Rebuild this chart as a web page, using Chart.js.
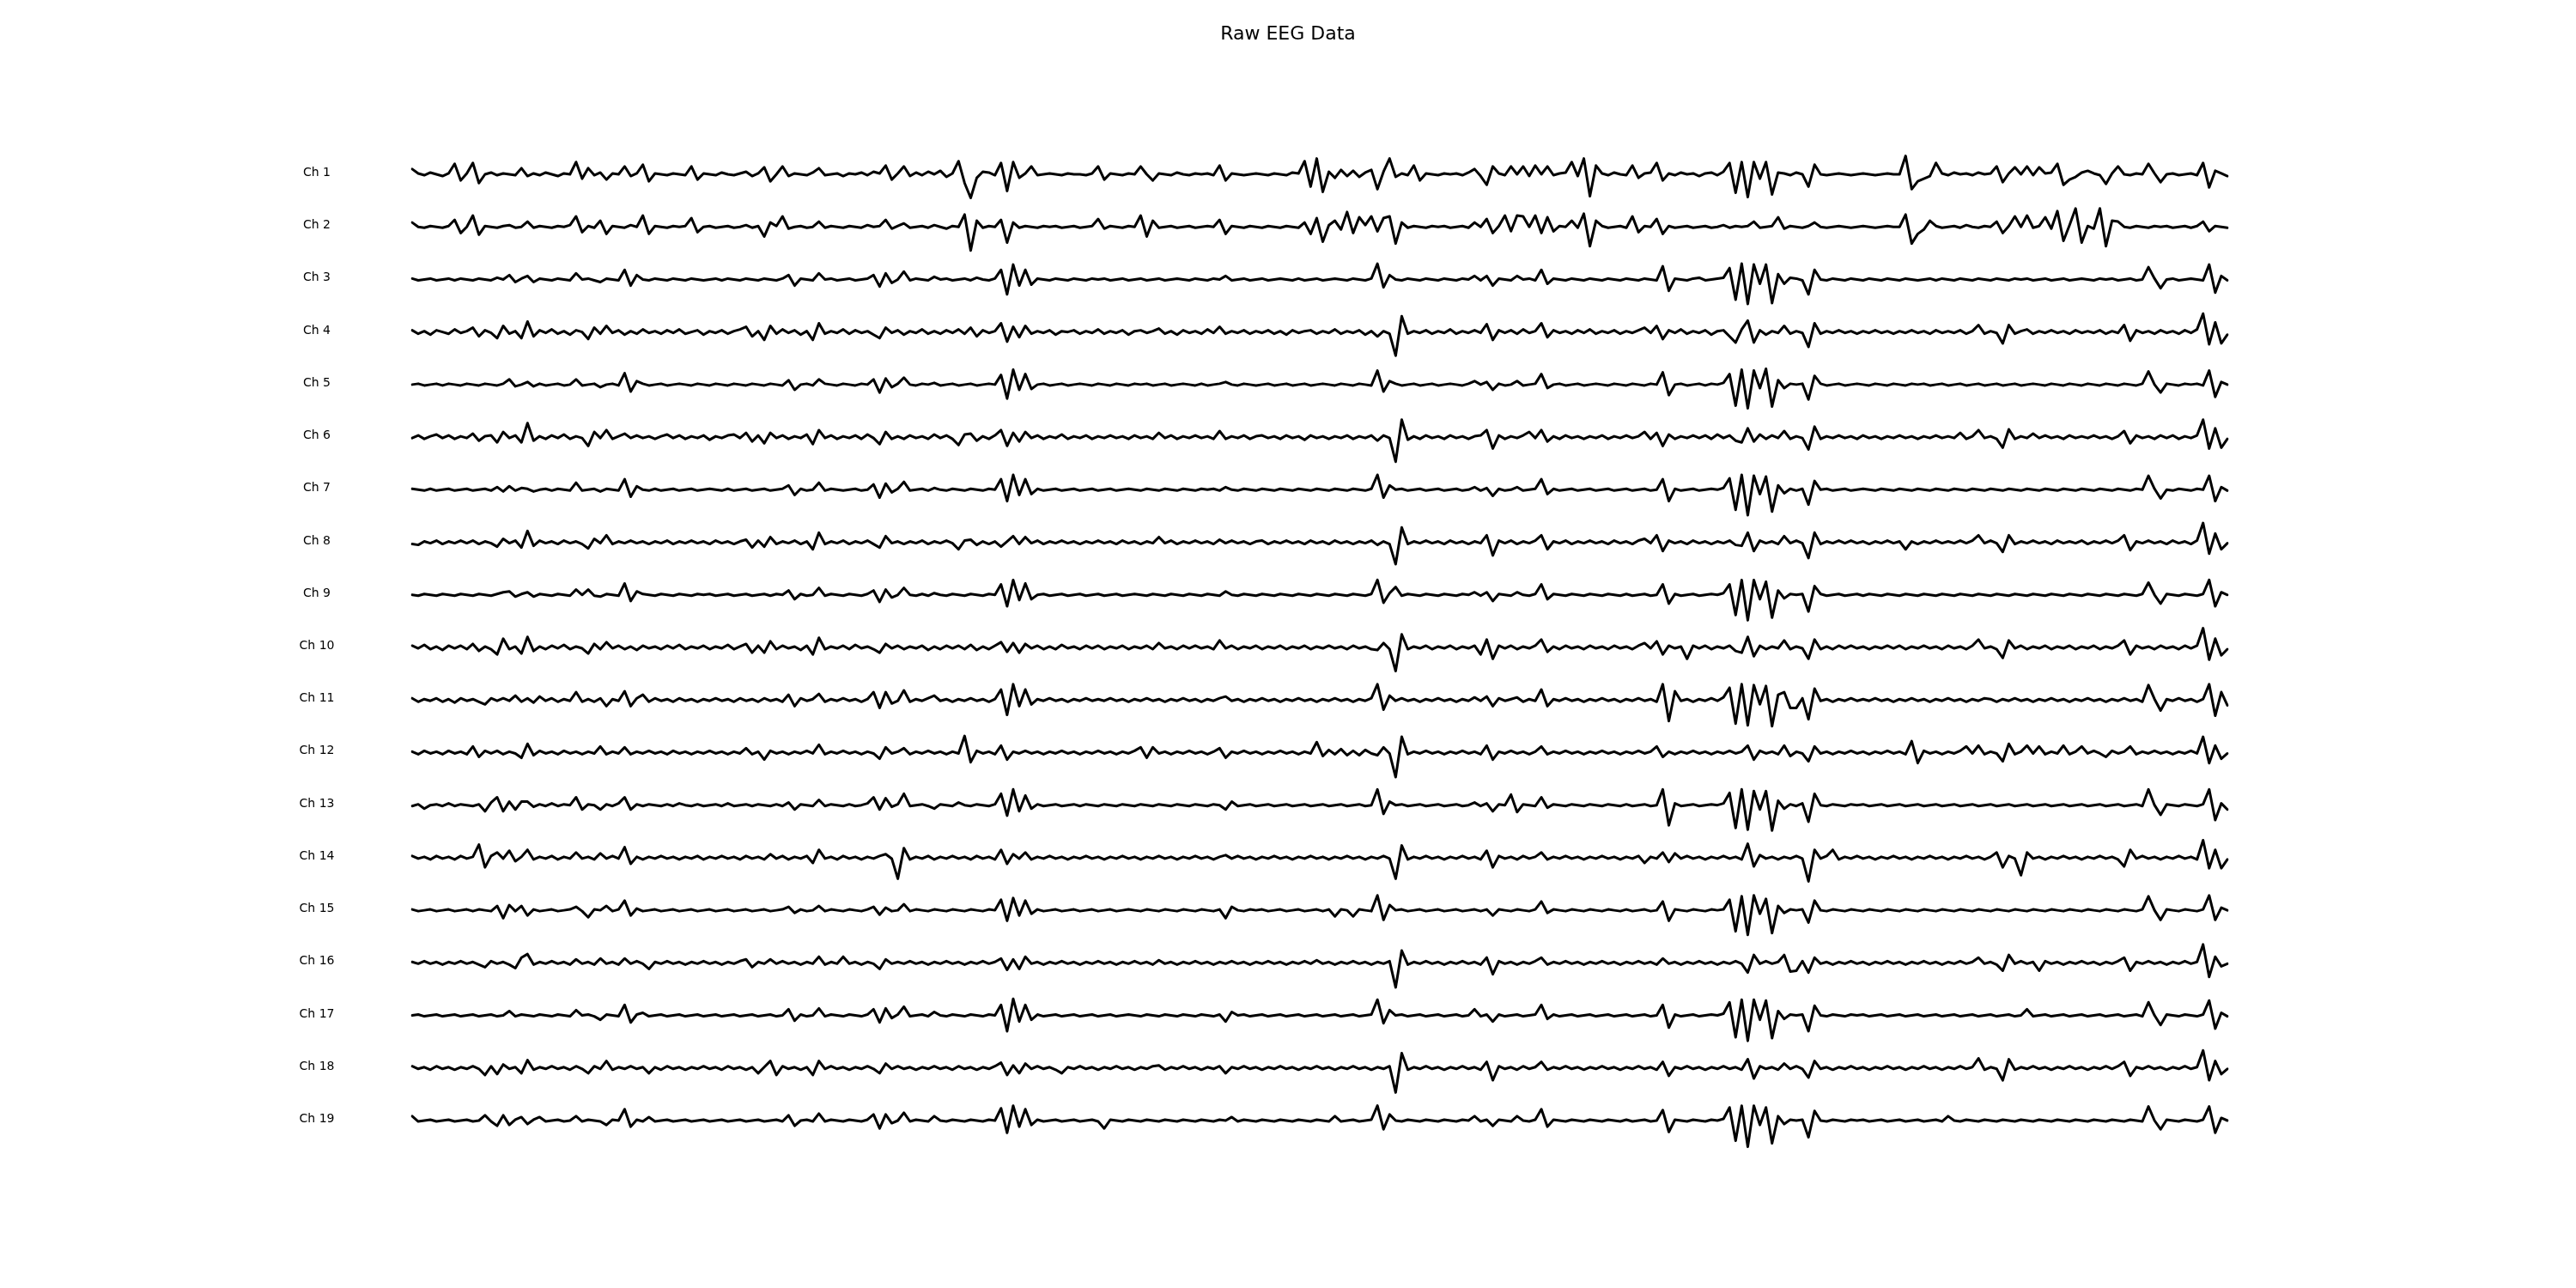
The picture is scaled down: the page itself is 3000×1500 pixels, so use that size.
<!DOCTYPE html>
<html><head><meta charset="utf-8">
<script src="https://cdn.jsdelivr.net/npm/chart.js@4.4.1/dist/chart.umd.min.js"></script>
<style>html,body{margin:0;padding:0;background:#fff;}canvas{display:block;}</style>
</head><body>
<canvas id="c" width="3000" height="1500" style="width:3000px;height:1500px"></canvas>
<script>
const chartTitle = "Raw EEG Data";
const channelNames = ["Ch 1","Ch 2","Ch 3","Ch 4","Ch 5","Ch 6","Ch 7","Ch 8","Ch 9","Ch 10","Ch 11","Ch 12","Ch 13","Ch 14","Ch 15","Ch 16","Ch 17","Ch 18","Ch 19"];

const ch1 = [
6,1,-1,2,0,-2,1,12,-7,1,13,-10,0,2,-1,1,0,-1,7,-2,
1,-1,2,0,-2,1,0,14,-5,7,-1,2,-6,1,0,9,-2,1,11,-8,
1,0,-1,1,0,-1,9,-6,1,0,-1,2,0,-1,1,3,-2,1,8,-8,
0,9,-2,1,0,-1,2,7,-1,0,1,-2,1,0,2,-1,3,1,10,-6,
1,9,-2,2,-1,3,0,4,-3,1,15,-10,-27,-4,3,2,-1,13,-19,14,
-4,1,9,-1,0,1,0,-1,1,0,0,-1,1,9,-6,1,0,-1,1,0,
9,0,-7,1,0,-1,2,0,-1,1,0,1,-1,10,-7,1,0,-1,0,1,
0,-1,1,0,-1,2,1,15,-14,18,-20,3,-4,5,-2,4,-3,2,5,-17,
3,18,-3,1,-1,10,-7,1,0,-1,1,0,1,-1,2,6,-2,-12,9,1,
-1,9,0,9,-2,10,0,9,-1,1,2,14,-2,18,-25,10,1,-1,2,0,
-1,10,-4,1,2,13,-7,1,-1,2,0,1,-2,1,2,-1,3,13,-21,14,
-26,14,-5,14,-23,2,1,-1,2,0,-14,11,0,-1,0,1,0,-1,0,1,
0,-1,0,1,0,0,21,-17,-8,-5,-2,13,1,-1,2,0,1,-1,2,0,
1,9,-9,1,8,0,9,-1,8,1,2,12,-12,-6,-3,2,4,1,-1,-11,
1,9,0,-1,1,0,12,1,-9,0,1,-1,0,1,-1,13,-15,4,1,-2];

const ch2 = [
5,0,-1,1,0,-1,1,8,-7,0,13,-9,1,0,-1,1,2,-1,0,6,
-1,1,0,-1,1,0,2,12,-6,1,-1,7,-8,1,0,-1,2,0,13,-8,
1,0,-1,1,0,1,10,-6,0,1,-1,0,1,-1,0,2,-1,1,-11,5,
1,12,-2,0,1,-1,0,6,-1,1,0,-1,1,0,-1,2,0,1,8,-2,
1,4,-1,0,1,-1,2,0,-2,1,0,14,-27,7,-1,1,0,8,-18,5,
-1,1,0,-1,1,0,1,-1,0,1,-1,0,1,9,-2,1,0,-1,1,0,
13,-11,7,-1,0,1,-1,0,1,-1,0,1,0,8,-8,1,0,-1,1,0,
-1,1,0,-1,1,0,-1,5,-8,10,-17,2,7,-3,17,-7,11,2,12,-5,
10,12,-19,5,-1,1,0,-1,1,0,1,-1,0,1,-1,5,0,9,-7,1,
13,-5,13,12,0,13,-7,11,-5,1,0,7,-1,15,-22,7,1,-1,0,1,
-1,12,-6,1,0,9,-8,1,-1,0,1,-1,0,1,-1,0,2,-1,1,0,
1,6,-1,0,1,11,-2,1,0,-1,1,5,0,-1,0,1,0,-1,0,1,
0,-1,0,1,0,0,14,-19,-8,-3,7,1,-1,0,1,-1,2,0,-1,1,
0,6,-7,1,12,0,13,-1,1,11,-2,18,-16,2,21,-18,1,-2,21,-22,
7,6,0,-1,1,0,-1,1,0,1,-1,0,1,-1,1,6,-5,1,0,-1];

const ch3 = [
1,-1,0,1,-1,0,1,-1,1,0,-1,1,0,-1,2,0,5,-3,1,4,
-3,1,0,-1,1,0,-1,7,0,1,-1,-3,1,0,-1,11,-7,5,0,-1,
1,0,-1,1,0,-1,1,0,-1,0,1,-1,1,0,-1,1,0,-1,1,0,
-1,1,5,-7,1,0,-1,7,0,1,-1,0,1,-1,0,1,5,-8,7,-4,
0,9,-1,1,0,-1,3,0,1,-1,0,1,-1,2,0,-1,1,11,-17,17,
-7,11,-6,1,0,-1,1,0,-1,1,0,-1,1,0,1,-1,0,1,-1,0,
1,-1,0,1,-1,0,1,0,-1,1,0,-1,1,0,4,-1,0,1,-1,0,
1,-1,0,1,0,-1,1,-1,0,1,-1,0,1,0,-1,1,0,-1,1,18,
-9,5,0,-1,1,0,-1,1,0,-1,1,0,-1,1,0,4,-1,4,-7,1,
0,-1,4,0,1,-1,11,-5,1,0,-1,1,0,-1,1,0,-1,1,0,-1,
1,0,-1,1,0,-1,15,-13,1,0,-1,1,2,-1,0,1,2,13,-23,18,
-28,17,-5,17,-27,6,-5,2,1,-1,-17,11,0,-1,1,0,-1,1,0,-1,
1,0,-1,1,0,-1,1,0,-1,0,1,-1,1,0,-1,1,0,-1,1,0,
-1,1,0,-1,1,0,1,-1,0,1,-1,0,1,-1,0,1,0,-1,1,0,
1,-1,0,1,-1,0,14,1,-10,0,1,-1,0,1,0,-1,17,-15,4,-1];

const ch4 = [
2,-2,1,-3,2,0,-2,3,-1,1,5,-5,2,-1,-7,7,-2,1,-7,12,
-5,2,-1,3,-2,1,-3,2,0,-8,5,-2,7,-1,2,-3,1,-2,3,-1,
1,-2,2,-1,3,-2,0,2,-3,1,-1,2,-2,1,3,6,-5,1,-9,7,
-2,3,-1,2,-3,1,-9,10,-2,1,-1,3,-2,2,-1,1,-3,-7,5,-1,
2,-3,1,-1,3,-2,1,-2,2,-1,3,-2,5,-5,2,-1,1,10,-11,6,
-6,7,-2,1,-1,2,-3,1,0,2,-2,1,-1,3,-2,1,-1,2,-3,1,
2,-1,1,4,-2,1,-3,2,-1,1,-2,3,-1,6,-2,1,-1,2,-2,1,
-1,2,-2,1,-3,2,-1,1,2,-2,1,-1,3,-2,1,-1,2,-3,1,-5,
1,-2,-27,18,-2,1,-1,2,-2,1,-1,3,-2,1,-1,2,-1,9,-9,2,
-1,2,-2,3,-1,1,10,-6,2,-1,1,-2,2,-1,3,-2,1,-1,2,-2,
1,-1,2,5,-1,7,-8,2,-1,3,-2,1,-1,2,-3,1,2,-5,-12,3,
13,-12,2,-3,1,-1,7,-2,1,-1,-17,10,-2,1,-1,2,-1,1,-2,1,
-1,2,-1,1,-2,1,-1,2,-1,1,-2,2,-1,1,-1,2,-2,1,8,-2,
1,-1,-13,8,-2,1,3,-2,1,-1,2,-1,1,-2,2,-1,1,-1,2,-2,
1,-1,8,-10,2,-1,1,-2,2,-1,1,-2,2,-1,3,21,-14,11,-13,-3];

const ch5 = [
0,1,-1,0,1,-1,1,0,-1,1,0,-1,1,0,-1,1,6,-2,0,3,
-2,1,-1,0,1,-1,0,6,-1,0,1,-3,0,1,-1,13,-8,4,1,-1,
0,1,-1,0,1,0,-1,1,0,-1,1,0,-1,1,0,-1,1,0,-1,1,
0,-1,5,-6,0,1,-1,6,1,0,-1,1,0,-1,1,0,6,-9,7,-3,
1,8,0,-1,1,0,2,-1,0,1,-1,0,1,-1,0,1,0,11,-16,17,
-6,12,-5,0,1,-1,0,1,-1,0,1,0,-1,1,0,-1,1,0,-1,1,
0,1,-1,0,1,-1,0,1,0,-1,1,-1,0,1,3,0,-1,1,0,-1,
0,1,-1,0,1,-1,0,1,-1,0,1,0,-1,1,0,-1,1,0,-1,16,
-8,4,1,-1,0,1,-1,0,1,-1,0,1,0,-1,1,4,0,3,-6,1,
-1,0,4,-1,0,1,12,-4,0,1,-1,0,1,-1,0,1,0,-1,1,0,
-1,1,0,-1,1,0,14,-12,0,1,-1,0,1,-1,1,0,2,12,-24,17,
-27,16,-4,18,-25,5,-4,1,0,1,-17,10,1,-1,0,1,-1,0,1,0,
-1,1,0,-1,1,0,-1,1,0,1,-1,0,1,-1,0,1,-1,0,1,-1,
0,1,-1,0,1,-1,0,1,0,-1,1,0,-1,1,0,-1,1,0,-1,1,
0,-1,1,0,-1,1,15,0,-9,1,0,-1,1,0,1,-1,16,-14,3,0];

const ch6 = [
-1,2,-2,1,3,-1,2,-2,1,-1,4,-4,1,2,-6,6,-1,2,-6,16,
-4,1,-2,2,-1,3,-2,1,-1,-10,6,-1,8,-2,1,4,-1,2,-1,1,
-2,1,3,-1,2,-2,1,-1,2,-3,1,-1,2,3,-1,5,-5,2,-7,5,
-1,2,-2,1,-1,3,-8,8,-1,2,-2,1,-1,2,-2,3,-1,-8,6,-2,
1,-2,2,-1,1,-2,3,-1,2,-2,-9,3,4,-4,1,-2,2,8,-10,5,
-5,6,-1,2,-2,1,-1,3,-2,1,-1,2,-2,1,-1,2,-1,1,-2,2,
-1,1,-2,5,-1,2,-2,1,-1,2,-1,1,-2,7,-2,1,-1,2,-2,1,
2,-1,1,-2,2,-1,1,-3,2,-1,1,-2,1,-1,2,-2,1,-1,2,-4,
2,-1,-28,20,-3,1,-2,2,-1,1,-2,2,-1,1,-2,1,2,8,-13,2,
-2,1,-1,2,6,-1,8,-5,1,-2,2,-1,1,-2,1,-1,2,-2,1,-1,
2,-1,1,6,-2,5,-10,3,-2,1,-1,2,-1,2,-2,3,-1,2,-4,-6,
10,-5,3,-2,2,-1,7,-2,1,-1,-14,12,-2,1,-1,2,-1,1,-2,2,
-1,1,-2,1,-1,2,-1,1,-2,1,-1,2,-1,1,-1,5,-2,1,8,-1,
1,-2,-12,9,-2,1,-1,4,-1,2,-1,1,-2,2,-1,1,-1,2,-1,1,
-2,1,7,-7,2,-1,1,-2,2,-1,2,-2,1,-1,2,20,-13,10,-12,-2];

const ch7 = [
1,0,-1,1,-1,0,1,-1,0,1,-1,0,1,-1,3,-2,4,-1,2,1,
-2,0,1,-1,1,0,-1,8,-1,0,1,-2,1,0,-1,12,-8,4,0,-1,
1,-1,0,1,-1,0,1,-1,0,1,0,-1,1,-1,0,1,-1,0,1,-1,
0,1,5,-6,1,-1,0,8,-1,1,0,-1,0,1,-1,0,6,-9,7,-3,
1,9,-1,0,1,-1,2,0,-1,1,0,-1,1,0,-1,1,0,12,-13,17,
-6,12,-5,1,-1,0,1,-1,0,1,-1,0,1,-1,0,1,-1,0,1,0,
-1,1,0,-1,1,0,-1,1,0,-1,1,0,1,-1,3,0,-1,1,0,-1,
1,0,-1,1,0,-1,1,0,-1,1,0,-1,1,0,-1,1,0,-1,1,17,
-9,5,0,1,-1,0,1,-1,0,1,-1,0,1,-1,0,3,-1,2,-7,1,
-1,0,3,-1,0,1,12,-5,1,-1,0,1,-1,0,1,-1,0,1,-1,0,
1,-1,0,1,-1,0,12,-13,1,-1,0,1,-1,0,1,0,2,13,-23,17,
-29,16,-5,15,-25,5,-4,1,-1,1,-17,10,0,1,-1,0,1,-1,0,1,
0,-1,1,0,-1,1,0,-1,1,0,-1,1,0,-1,1,0,-1,1,0,-1,
1,0,-1,1,0,-1,1,0,-1,1,0,-1,1,0,-1,1,0,-1,1,0,
-1,1,0,-1,1,0,16,1,-10,0,-1,1,0,-1,1,0,16,-13,3,-1];

const ch8 = [
-2,-3,1,-1,2,-2,1,-1,2,-1,2,-2,1,-1,-5,4,-1,2,-6,13,
-4,2,-1,1,-2,2,-1,1,-2,-7,4,-1,8,-2,1,-1,2,-1,1,-2,
1,-1,2,-2,1,-1,2,-1,1,-2,2,-1,1,-2,1,3,-6,2,-5,6,
-2,1,-1,2,-2,1,-8,11,-2,1,-1,2,-2,1,-1,2,-2,-6,7,-1,
1,-2,1,-1,2,-2,1,-1,2,-1,-8,2,3,-3,1,-2,1,-5,1,7,
-2,6,-1,2,-2,1,-1,2,-1,1,-2,1,-1,2,-1,1,-2,2,-1,1,
-2,1,-1,6,-1,2,-2,1,-1,2,-1,1,-2,3,-1,2,-1,1,-2,1,
2,-2,1,-1,2,-1,1,-2,2,-1,1,-2,2,-1,1,-2,1,-1,2,-3,
1,-2,-25,17,-2,1,-1,2,-1,1,-2,2,-1,1,-2,1,-1,8,-15,2,
-1,2,-2,1,-1,2,8,-8,1,-1,2,-2,1,-1,2,-1,1,-2,2,-1,
1,-2,2,4,-1,8,-10,2,-1,1,-2,2,-1,1,-2,1,-1,2,-3,-4,
11,-10,2,-1,1,-2,7,-1,2,-1,-18,11,-2,1,-1,2,-1,2,-1,1,
-2,1,-1,2,-1,1,-8,1,-2,1,-1,2,-1,1,-1,2,-1,2,8,-1,
2,-1,-11,8,-2,1,-1,2,-1,1,-2,2,-1,1,-1,2,-2,1,-1,2,
-1,2,8,-9,1,-1,2,-1,1,-2,2,-1,1,-2,2,22,-13,10,-8,-1];

const ch9 = [
0,-1,1,0,-1,1,0,-1,1,0,-1,1,0,-1,1,3,4,-2,1,3,
-2,1,0,-1,1,0,-1,6,0,6,-1,-2,1,0,-1,13,-7,4,1,0,
-1,1,0,-1,1,0,-1,1,0,1,-1,0,1,-1,0,1,-1,0,1,-1,
1,0,5,-5,1,-1,0,8,-1,1,0,-1,1,0,-1,1,5,-8,6,-3,
0,8,0,-1,1,-1,2,0,-1,1,0,-1,1,0,-1,1,0,12,-13,17,
-6,13,-5,0,1,-1,0,1,-1,0,1,-1,0,1,-1,0,1,-1,0,1,
0,-1,1,0,-1,1,0,-1,1,0,-1,1,0,-1,4,0,-1,1,0,-1,
1,0,-1,1,0,-1,1,0,-1,1,0,-1,1,0,-1,1,0,-1,1,17,
-9,2,9,-1,1,0,-1,1,0,-1,1,0,-1,1,0,3,-1,3,-7,1,
0,-1,3,0,-1,1,12,-5,1,0,-1,1,0,-1,1,0,-1,1,0,-1,
1,-1,0,1,-1,0,12,-10,1,-1,0,1,-1,0,1,0,2,12,-23,17,
-29,17,-5,15,-26,5,-4,1,0,1,-19,10,1,-1,0,1,-1,0,1,-1,
1,0,-1,1,0,-1,1,0,-1,1,0,-1,1,0,-1,1,0,-1,1,0,
-1,1,0,-1,1,0,-1,1,0,-1,1,0,-1,1,0,-1,1,0,-1,1,
0,-1,1,0,-1,1,14,0,-10,1,0,-1,1,0,-1,1,17,-13,3,0];

const ch10 = [
2,-1,3,-2,1,-3,2,-1,2,-2,4,-4,1,-2,-8,10,-2,1,-7,12,
-4,1,-2,2,-1,3,-2,1,-1,-7,4,-2,6,-1,2,-2,1,-3,2,-1,
1,-2,2,-1,3,-2,1,-1,2,-2,1,-1,3,-2,1,4,-6,2,-6,7,
-2,2,-1,1,-3,2,-8,11,-2,1,-1,2,-2,3,-1,1,-2,-6,4,-1,
2,-2,1,-1,2,-3,1,-2,2,-1,2,-2,3,-3,1,-2,2,6,-5,5,
-6,4,-1,2,-2,1,-2,3,-1,1,-2,2,-1,2,-2,1,-1,2,-2,1,
-1,2,-2,5,-1,1,-2,2,-1,2,-1,1,-2,8,-1,2,-2,1,-1,2,
-2,1,-1,2,-2,1,-1,2,-2,1,-1,2,-1,1,-2,2,-1,1,-2,-3,
5,-2,-27,15,-2,1,-1,2,-2,1,-1,2,-2,1,-1,2,-8,9,-13,2,
-1,2,-2,1,-1,2,9,-5,1,-2,2,-1,1,-2,2,-1,1,-2,2,-1,
1,-2,2,5,-1,7,-8,2,-1,1,-13,2,-1,2,-2,1,-1,2,-4,-6,
12,-10,2,-2,1,-1,8,-2,1,-1,-13,9,-2,1,-2,2,-1,2,-1,1,
-2,1,-1,2,-1,2,-2,1,-1,2,-1,1,-2,2,-1,1,-2,2,9,-1,
1,-2,-12,8,-1,2,-2,1,-1,2,-2,1,-1,2,-2,1,-1,2,-2,1,
-1,2,8,-8,2,-1,1,-2,2,-1,1,-2,2,-1,2,22,-14,10,-9,-2];

const ch11 = [
2,-2,1,-1,2,-2,1,-3,2,-1,1,-2,-5,2,-1,2,-1,5,-2,2,
-3,4,-1,2,-2,1,-1,9,-2,1,-2,2,-7,1,-1,10,-7,2,6,-2,
2,-1,1,-2,2,-1,1,-2,1,-1,2,-1,1,-2,2,-1,1,-2,2,-1,
1,-2,6,-7,2,-1,1,7,-2,1,-1,2,-1,1,-2,1,9,-9,9,-4,
-1,11,-2,1,-1,2,5,-1,1,-2,1,-1,2,-1,1,-2,1,12,-17,18,
-7,12,-5,1,-1,2,-1,1,-2,1,-1,2,-1,1,-1,2,-1,1,-2,1,
-1,2,-1,1,-2,1,-1,2,-1,1,-2,1,-1,2,4,-1,1,-2,1,-1,
2,-1,1,-2,1,-1,2,-1,1,-2,1,-1,2,-1,1,-2,1,-1,2,18,
-11,5,-1,2,-1,1,-2,1,-1,2,-1,1,-2,1,-1,3,-1,4,-7,2,
-1,1,3,-2,1,-1,12,-7,1,-1,2,-1,1,-2,1,-1,2,-1,1,-2,
1,-1,2,-1,1,-2,18,-24,10,-1,1,-2,1,-1,2,-1,3,14,-27,18,
-29,17,-5,16,-30,6,9,-9,-9,2,-22,13,-1,1,-2,1,-1,2,-1,1,
-1,2,-1,1,-2,1,-1,2,-1,1,-2,1,-1,2,-1,1,-2,1,-1,2,
1,-2,1,-1,2,-1,1,-2,1,-1,2,-1,1,-2,1,-1,2,-1,1,-2,
1,-1,2,-1,1,-2,17,1,-12,1,-1,2,-1,1,-2,1,18,-18,9,-6];

const ch12 = [
1,-2,2,-1,1,-2,2,-1,1,-2,7,-5,2,-1,2,-2,1,-1,-6,10,
-3,2,-1,1,-2,2,-1,1,-2,1,-1,7,-2,1,-1,6,-2,1,-1,2,
-1,1,-2,2,-1,1,-2,1,-1,2,-1,1,-2,1,-1,5,-2,1,-8,2,
-1,1,-2,1,-1,2,-1,9,-2,1,-1,2,-1,1,-2,1,-1,-7,6,-1,
1,5,-2,1,-1,2,-1,1,-2,1,-1,19,-11,2,-1,1,-2,8,-8,1,
-1,2,-1,1,-2,1,-1,2,-1,1,-2,1,-1,2,-1,1,-2,1,-1,2,
6,-6,6,-1,1,-2,1,-1,2,-1,1,-2,1,5,-6,1,-1,2,-1,1,
-2,1,-1,2,-1,1,-2,1,-1,12,-4,3,-2,4,-3,2,-3,3,-1,-3,
6,-1,-28,18,-2,1,-1,2,-1,1,-2,1,-1,2,-1,1,-2,8,-8,1,
-1,2,-1,1,-2,1,7,-2,1,-1,2,-1,1,-2,1,-1,2,-1,1,-2,
1,-1,2,-1,1,7,-5,1,-2,1,-1,2,-1,1,-2,1,-1,2,-1,1,
8,-8,2,-1,1,-2,8,-4,1,-1,-10,7,-1,1,-2,1,-1,2,-1,1,
-2,1,-1,2,-1,1,-2,13,-12,2,-1,1,-2,1,-1,2,7,-1,8,-2,
1,-1,-10,10,-2,1,8,-1,7,-2,1,-1,8,-2,1,7,-1,2,-1,-5,
2,-1,1,7,-2,1,-1,2,-1,1,-2,1,-1,2,-1,18,-12,8,-7,-1];

const ch13 = [
-1,1,-4,0,1,-1,2,-1,1,0,-1,1,-7,3,9,-7,4,-5,4,4,
-2,1,-1,2,-1,1,0,9,-5,1,0,-5,1,-1,2,9,-5,1,-1,1,
0,-1,1,-1,2,0,-1,1,-1,0,1,-1,2,-1,0,1,-1,1,0,-1,
1,-1,3,-5,1,0,-1,6,-1,1,0,-1,1,-1,0,2,9,-5,8,-2,
1,13,-1,0,1,-1,-4,1,0,-1,3,0,-1,1,0,-1,1,13,-12,18,
-7,11,-4,1,-1,0,1,-1,0,1,-1,1,0,-1,1,0,-1,1,0,-1,
1,0,-1,1,0,-1,1,0,-1,1,0,-1,1,0,-5,4,-1,0,1,-1,
0,1,-1,0,1,-1,0,1,-1,0,1,-1,0,1,-1,0,1,-1,0,18,
-10,4,0,1,-1,0,1,-1,0,1,-1,0,1,-1,0,3,-1,2,-7,1,
0,12,-8,1,0,-1,9,-3,1,0,-1,1,0,-1,1,0,-1,1,0,-1,
1,-1,0,1,-1,0,18,-23,2,-1,0,1,-1,0,1,0,2,14,-26,18,
-28,16,-5,16,-29,5,-4,1,-1,2,-19,13,0,-1,1,0,-1,1,0,1,
-1,0,1,-1,0,1,-1,0,1,-1,0,1,-1,0,1,-1,0,1,-1,0,
1,-1,0,1,-1,0,1,-1,0,1,-1,0,1,-1,0,1,-1,0,1,-1,
0,1,-1,0,1,-1,18,0,-11,1,0,-1,1,0,-1,1,18,-17,2,-5];

const ch14 = [
2,-1,1,-2,2,-1,1,-2,2,-1,1,15,-11,2,6,-1,8,-4,1,9,
-2,1,-1,2,-2,1,-1,6,-1,1,-2,5,-1,2,-1,12,-7,1,-2,1,
-1,2,-1,1,-2,1,-1,2,-2,1,-1,2,-1,1,-2,2,-1,1,-2,4,
-1,2,-2,1,-1,2,-6,9,-1,1,-2,2,-1,1,-2,1,-1,2,4,-1,
-24,11,-2,1,-1,2,-2,1,-1,2,-1,1,-2,2,-1,1,-2,9,-7,4,
-1,6,-2,1,-1,2,-1,1,-2,1,-1,2,-1,1,-2,1,-1,2,-1,1,
-2,1,-1,2,-1,1,-2,1,-1,2,-1,1,-2,1,3,-1,2,-1,1,-2,
1,-1,2,-1,1,-2,1,-1,2,-1,1,-2,1,-1,2,-1,1,-2,1,-1,
2,-1,-24,14,-2,1,-1,2,-1,1,-2,1,-1,2,-1,1,-2,8,-11,2,
-1,1,-2,2,-1,1,6,-2,1,-1,2,-1,1,-2,1,-1,2,-1,1,-2,
1,-1,2,-6,1,-1,6,-5,5,-1,2,-1,1,-2,1,-1,2,-1,1,-2,
16,-10,3,-1,1,-2,1,-1,2,-1,-27,9,-1,2,9,-2,1,-1,2,-1,
1,-2,1,-1,2,-1,1,-2,1,-1,2,-1,1,-2,1,-1,2,-1,1,-2,
1,6,-11,2,-1,-20,6,-1,1,-2,1,-1,2,-1,1,-2,1,-1,2,-1,
1,-2,-10,9,-1,2,-1,1,-2,1,-1,2,-1,1,-2,20,-12,9,-12,-2];

const ch15 = [
1,-1,0,1,-1,0,1,-1,0,1,-1,1,0,-1,5,-9,6,-1,5,-6,
1,-1,0,1,-1,0,1,4,-1,-8,1,0,5,-1,1,11,-6,2,-1,0,
1,-1,0,1,-1,0,1,-1,0,1,-1,0,1,-1,0,1,-1,0,1,-1,
0,1,4,-3,1,-1,0,5,-1,1,0,-1,1,0,-1,1,4,-5,3,-1,
0,7,-1,1,0,-1,1,0,-1,1,0,-1,1,0,-1,1,0,12,-12,14,
-6,11,-4,1,-1,0,1,-1,0,1,-1,0,1,-1,0,1,-1,0,1,0,
-1,1,0,-1,1,0,-1,1,0,-1,1,0,-1,1,-9,4,0,-1,1,0,
1,-1,0,1,-1,0,1,-1,0,1,-1,1,-7,1,0,-7,1,0,-1,17,
-11,6,0,1,-1,0,1,-1,0,1,-1,0,1,-1,0,1,-1,1,-6,1,
0,-1,1,0,-1,1,10,-3,1,0,-1,1,0,-1,1,0,-1,1,0,-1,
1,-1,0,1,-1,0,10,-12,1,0,-1,1,0,-1,1,0,1,12,-24,16,
-28,17,-4,13,-26,5,-3,1,0,1,-14,11,0,-1,1,0,-1,1,0,-1,
1,0,-1,1,0,-1,1,0,-1,1,0,-1,1,0,-1,1,0,-1,1,0,
-1,1,0,-1,1,0,-1,1,0,-1,1,0,-1,1,0,-1,1,0,-1,1,
0,-1,1,0,-1,1,16,0,-11,1,0,-1,1,0,-1,1,17,-11,3,0];

const ch16 = [
1,-1,2,-1,1,-2,1,-1,2,-1,1,-2,-5,2,-1,1,-2,-6,6,10,
-2,1,-1,2,-1,1,-2,4,-1,1,-2,5,-1,1,-2,5,-1,2,-1,-7,
1,-1,2,-1,1,-2,1,-1,2,-1,1,-2,1,-1,2,4,-5,1,-1,4,
-1,2,-1,1,-2,1,-1,7,-2,1,-1,7,-1,1,-2,1,-1,-7,4,-1,
1,-1,2,-1,1,-2,1,-1,2,-1,1,-2,1,-1,2,-1,1,5,-8,4,
-7,7,-1,1,-2,1,-1,2,-1,1,-2,1,-1,2,-1,1,-2,1,-1,2,
-1,1,-2,3,-1,1,-2,1,-1,2,-1,1,-2,1,-1,2,-1,1,-2,1,
-1,2,-1,1,-2,1,-1,2,-1,3,-1,1,-2,1,-1,2,-1,1,-2,1,
-1,2,-28,14,-2,1,-1,2,-1,1,-2,1,-1,2,-1,1,-2,6,-13,2,
-1,1,-2,1,-1,2,6,-2,1,-1,2,-1,1,-2,1,-1,2,-1,1,-2,
1,-1,2,-1,1,-2,5,-1,1,-2,1,-1,2,-1,1,-2,1,-1,2,-1,
-11,9,-1,2,-1,1,9,-10,-9,2,-11,6,-1,1,-2,1,-1,2,-1,1,
-2,1,-1,2,-1,1,-2,1,-1,2,-1,1,-2,1,-1,2,-1,1,6,-1,
1,-2,-9,9,-1,2,-1,1,-9,2,-1,1,-2,1,-1,2,-1,1,-2,1,
-1,2,6,-9,1,-1,2,-1,1,-2,1,-1,2,-1,1,21,-16,7,-4,-1];

const ch17 = [
0,1,-1,0,1,-1,0,1,-1,0,1,-1,0,1,-1,0,5,-1,1,0,
-1,1,0,-1,1,0,-1,6,0,1,-1,-5,1,0,-1,12,-8,1,3,-1,
0,1,-1,0,1,-1,0,1,-1,0,1,-1,0,1,-1,0,1,-1,0,1,
-1,0,7,-6,1,-1,0,8,-1,1,0,-1,1,0,-1,1,7,-8,8,-3,
1,10,-1,0,1,-1,4,0,-1,1,0,-1,1,0,-1,1,0,12,-18,19,
-7,12,-5,1,-1,0,1,-1,0,1,-1,0,1,-1,0,1,-1,0,1,0,
-1,1,0,-1,1,0,-1,1,0,-1,1,0,-1,1,-7,4,0,1,-1,0,
1,-1,0,1,-1,0,1,-1,0,1,-1,0,1,-1,0,1,-1,0,1,18,
-9,6,0,1,-1,0,1,-1,0,1,-1,0,1,-1,0,7,-1,1,-7,1,
-1,0,1,-1,0,1,12,-4,1,-1,0,1,-1,0,1,-1,0,1,-1,0,
1,-1,0,1,-1,0,12,-14,1,-1,0,1,-1,0,1,0,2,15,-25,18,
-29,18,-5,17,-26,5,-4,1,0,1,-18,11,0,-1,1,0,-1,1,0,1,
-1,0,1,-1,0,1,-1,0,1,-1,0,1,-1,0,1,-1,0,1,-1,0,
1,-1,0,1,-1,0,7,-1,0,1,-1,0,1,-1,0,1,-1,0,1,-1,
0,1,-1,0,1,-1,15,0,-11,1,0,-1,1,0,-1,1,17,-15,3,-1];

const ch18 = [
2,-1,1,-2,2,-1,1,-2,1,-1,2,-1,-8,2,-7,4,-1,1,-6,9,
-2,1,-1,2,-1,1,-2,2,-1,-6,2,-1,8,-2,1,-1,2,-1,1,-6,
1,-2,2,-1,1,-2,1,-1,2,-1,1,-2,2,-1,1,-2,1,-6,1,8,
-8,2,-1,1,-2,1,-8,8,-1,2,-1,1,-2,1,-1,2,-1,-6,5,-1,
2,-1,1,-2,1,-1,2,-1,1,-2,2,-1,1,-2,1,-1,2,6,-8,3,
-6,5,-1,2,-1,1,-2,-6,1,-1,2,-1,1,-2,1,-1,2,-1,1,-2,
1,-1,2,3,-2,1,-1,2,-1,1,-2,1,-1,2,-6,1,-1,2,-1,1,
-2,1,-1,2,-1,1,-2,1,-1,2,-1,1,-2,1,-1,2,-1,1,-2,1,
-1,2,-28,17,-2,1,-1,2,-1,1,-2,1,-1,2,-1,1,-2,7,-14,2,
-1,1,-2,2,-1,1,7,-2,1,-1,2,-1,1,-2,1,-1,2,-1,1,-2,
1,-1,2,-1,1,-2,7,-9,1,-1,2,-1,1,-2,1,-1,2,-1,1,-2,
10,-12,2,-1,1,-2,5,-1,2,-1,-11,8,-1,1,-2,1,-1,2,-1,1,
-2,1,-1,2,-1,1,-2,1,-1,2,-1,1,-2,1,-1,2,-1,1,11,-2,
1,-1,-14,10,-2,1,-1,2,-1,1,-2,1,-1,2,-1,1,-2,1,-1,2,
-1,2,7,-9,1,-1,2,-1,1,-2,1,-1,2,-1,1,20,-14,8,-7,-1];

const ch19 = [
5,-1,0,1,-1,0,1,-1,0,1,-1,0,6,-1,-6,6,-5,1,4,-4,
1,4,-1,0,1,-1,0,5,-1,1,0,-1,-5,1,0,13,-7,1,-1,4,
-1,0,1,-1,0,1,-1,0,1,-1,0,1,-1,0,1,-1,0,1,-1,0,
1,-1,6,-6,0,1,-1,8,-1,1,0,-1,1,0,-1,1,7,-9,7,-3,
0,9,-1,1,0,-1,5,0,-1,1,0,-1,1,0,-1,1,0,14,-14,17,
-7,13,-5,1,-1,0,1,-1,0,1,-1,0,1,-1,-9,1,0,-1,1,0,
-1,1,0,-1,1,0,-1,1,0,-1,1,0,-1,1,0,4,-1,1,0,-1,
1,0,-1,1,0,-1,1,0,-1,1,0,-1,5,-1,0,1,-1,0,1,17,
-10,7,0,-1,1,0,-1,1,0,-1,1,0,-1,1,0,5,-1,1,-6,1,
0,-1,5,0,-1,1,13,-7,1,0,-1,1,0,-1,1,0,-1,1,0,-1,
1,-1,0,1,-1,0,12,-13,1,0,-1,1,0,-1,1,0,2,15,-23,17,
-30,17,-5,15,-26,5,-4,1,0,1,-19,11,0,-1,1,0,-1,1,0,1,
-1,0,1,-1,0,1,-1,0,1,-1,0,1,-1,5,0,-1,1,0,-1,1,
0,-1,1,0,-1,1,0,-1,1,0,-1,1,0,-1,1,0,-1,1,0,-1,
1,0,-1,1,0,-1,16,0,-10,1,0,-1,1,0,-1,1,16,-14,3,0];

const channels = [ch1,ch2,ch3,ch4,ch5,ch6,ch7,ch8,ch9,ch10,ch11,ch12,ch13,ch14,ch15,ch16,ch17,ch18,ch19];
const CHANNEL_SPACING = 60;
const N_SAMPLES = 300;
const sampleIndex = Array.from({length: N_SAMPLES}, (_, i) => i);

const nCh = channels.length;
const datasets = channels.map((vals, k) => ({
  label: channelNames[k],
  data: vals.map(v => v + (nCh - 1 - k) * CHANNEL_SPACING),
  borderColor: '#000000',
  borderWidth: 3,
  pointRadius: 0,
  tension: 0,
  fill: false,
  borderJoinStyle: 'round',
  borderCapStyle: 'round'
}));

const textPlugin = {
  id: 'eegText',
  afterDraw(chart) {
    const ctx = chart.ctx;
    const ys = chart.scales.y;
    ctx.save();
    ctx.fillStyle = '#000000';
    ctx.textAlign = 'center';
    ctx.textBaseline = 'alphabetic';
    ctx.font = '22px "DejaVu Sans"';
    ctx.fillText(chartTitle, 1500, 46);
    ctx.font = '14px "DejaVu Sans"';
    channelNames.forEach((name, k) => {
      const py = ys.getPixelForValue((nCh - 1 - k) * CHANNEL_SPACING);
      ctx.fillText(name, 369, py + 2);
    });
    ctx.restore();
  }
};

// vertical scale: first trace at y=203, last at y=1305
const firstTraceY = 203, lastTraceY = 1305;
const pxPerUnit = (lastTraceY - firstTraceY) / ((nCh - 1) * CHANNEL_SPACING);
const yMax = (nCh - 1) * CHANNEL_SPACING + firstTraceY / pxPerUnit;
const yMin = yMax - 1500 / pxPerUnit;

new Chart(document.getElementById('c'), {
  type: 'line',
  data: { labels: sampleIndex, datasets },
  options: {
    responsive: false,
    animation: false,
    devicePixelRatio: 1,
    layout: { padding: { left: 480, right: 406, top: 0, bottom: 0 } },
    plugins: { legend: { display: false }, title: { display: false }, tooltip: { enabled: false } },
    scales: {
      x: { display: false, offset: false },
      y: { display: false, min: yMin, max: yMax }
    }
  },
  plugins: [textPlugin]
});
</script>
</body></html>
